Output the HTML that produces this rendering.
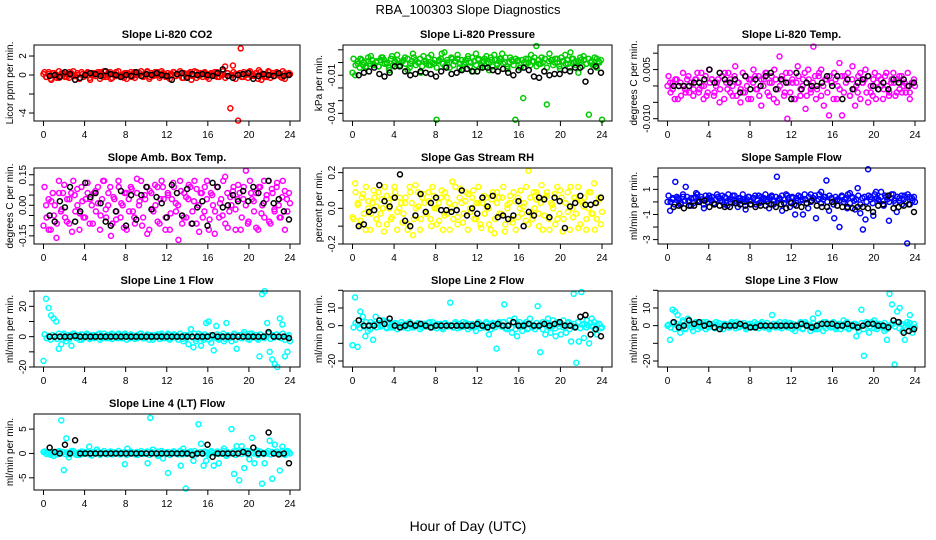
<!DOCTYPE html>
<html><head><meta charset="utf-8"><style>
html,body{margin:0;padding:0;background:#fff;}
svg{display:block;font-family:"Liberation Sans",Arial,sans-serif;}
</style></head><body>
<svg id="chart" width="936" height="540" viewBox="0 0 936 540" xmlns="http://www.w3.org/2000/svg">
<text x="468" y="14" text-anchor="middle" font-size="13">RBA_100303  Slope Diagnostics</text>
<text x="468" y="531" text-anchor="middle" font-size="14">Hour of Day (UTC)</text>
</svg>
<script>
const xTicks=[0,4,8,12,16,20,24];
const xTickLabels=["0","4","8","12","16","20","24"];
const titles=["Slope Li-820 CO2","Slope Li-820 Pressure","Slope Li-820 Temp.","Slope Amb. Box Temp.","Slope Gas Stream RH","Slope Sample Flow","Slope Line 1 Flow","Slope Line 2 Flow","Slope Line 3 Flow","Slope Line 4 (LT) Flow"];
const yLabels=["Licor ppm per min.","kPa per min.","degrees C per min.","degrees C per min.","percent per min.","ml/min per min.","ml/min per min.","ml/min per min.","ml/min per min.","ml/min per min."];
const colors=["#ff0000","#00cd00","#ff00ff","#ff00ff","#ffff00","#0000ff","#00ffff","#00ffff","#00ffff","#00ffff"];
const yLims=[[-4.84,3.16],[-0.046,0.0138],[-0.0107,0.0125],[-0.19,0.183],[-0.2,0.226],[-3.35,2.7],[-20,30.1],[-23.4,19.6],[-23.4,19.6],[-7.5,8.1]];
const yTicks=[[-4,-2,0,2],[-0.04,-0.03,-0.02,-0.01,0,0.01],[-0.01,-0.005,0,0.005,0.01],[-0.15,-0.1,-0.05,0,0.05,0.1,0.15],[-0.2,-0.1,0,0.1,0.2],[-3,-2,-1,0,1,2],[-20,-10,0,10,20,30],[-20,-10,0,10,20],[-20,-10,0,10,20],[-5,0,5]];
const yTickLabels=[["-4","","0","2"],["-0.04","","","-0.01","",""],["-0.010","","","0.005",""],["-0.15","","","0.00","","","0.15"],["-0.2","","0.0","","0.2"],["-3","","-1","","1",""],["-20","","0","","20",""],["-20","","0","10",""],["-20","","0","10",""],["-5","0","5"]];

const co2=[0.1,-0.2,0.3,-0.5,0.2,0,-0.3,0.2,0.1,-0.2,0.3,0,-0.1,0.2,-0.3,0.1,0,0.3,-0.5,0.2,-0.1,0.1,0.3,-0.2,0,0.2,-0.4,0.1,0.3,-0.1,0,-0.3,0.2,0.1,-0.2,0.3,0,0.2,-0.1,0.1,0.4,-0.2,0,0.3,0.1,-0.1,0.2,0,-0.2,0.1,0.3,-0.1,0,0.2,-0.3,0.1,0.2,-0.5,0,0.3,-0.1,0.1,0.2,-0.2,0,0.1,0.3,-0.2,0.1,0,0.9,0.2,-3.5,1.0,0.1,-4.8,2.8,-0.2,0.1,0.3,-0.1,0,0.2,0.5,-0.5,0.1,-0.2,0.3,0,-0.1,0.2,0.1,-0.3,0.2,0,0.1];
const co2Fine=[0.3,-0.2,0.1,-0.4,0.2,0,-0.3,0.4,-0.1,0.2,-0.2,0.1,-0.3,0.2,0.4,-0.1,0,-0.4,0.3,-0.2,0.1,0.2,-0.3,0,0.2,-0.1,0.3,-0.4,0.1,0.4,-0.2,0,0.3,-0.3,0.1,-0.1,0.4,-0.2,0,0.2,-0.4,0.1,0.3,-0.1,-0.3,0.2,0,0.4,-0.2,0.1,0.3,-0.4,0.2,-0.1,0,0.3,-0.3,0.4,0.1,-0.2,0.2,-0.4,0.1,0.3,-0.1,0,0.4,-0.3,0.2,-0.2,0.1,0.3,-0.1,0.4,-0.3,0,0.2,-0.2,0.3,0.1,-0.4,0.2,0,-0.1,0.3,-0.2,0.1,0.4,-0.3,0.2,-0.1,0,0.3,-0.4,0.1,0.2,-0.2,0.3,0,-0.3,0.4,0.1,-0.1,0.2,-0.4,0.3,0,-0.2,0.1,0.4,-0.3,0.2,-0.1,0.3,0,-0.2,0.4,-0.4,0.1,0.2];
const co2Hourly=[-0.1,0,-0.2,0.3,0.1,-0.5,-0.3,0,0.2,0.1,-0.1,0.4,0.1,0,-0.2,0,-0.1,0.3,-0.1,0.1,0,0.2,0,-0.1,-0.5,0.1,0.2,-0.3,0.1,0,0.1,0,-0.1,0.2,0.6,-0.1,-0.3,0,0.1,0.2,-0.4,-0.1,0.1,0,-0.1,0.2,-0.1,0];
const pres=[-0.008,-0.010,-0.001,0.003,-0.002,-0.004,0.001,0.005,-0.001,0.000,-0.003,0.004,0.002,-0.001,-0.006,0.005,0.000,0.006,-0.002,0.001,0.004,-0.006,-0.001,0.007,0.002,0.000,-0.008,0.005,0.001,-0.002,0.006,-0.001,-0.045,0.002,0.007,0.008,0.000,-0.004,0.003,0.001,0.006,-0.001,-0.005,0.002,0.005,0.000,-0.007,0.007,0.003,-0.002,0.001,0.005,-0.006,0.002,0.006,-0.001,0.003,0.007,0.000,-0.005,0.004,0.001,-0.045,0.002,-0.004,-0.028,0.003,0.000,0.006,0.001,0.013,-0.001,0.004,-0.007,-0.033,0.007,0.002,0.000,0.003,-0.005,0.001,0.006,-0.001,0.008,0.003,0.000,-0.008,0.002,0.005,-0.001,-0.041,0.001,-0.002,0.003,0.000,-0.045];
const presFine=[0.003,-0.002,0.001,-0.004,0.002,0,-0.003,0.004,-0.001,0.002,-0.002,0.001,-0.003,0.002,0.004,-0.001,0,-0.004,0.003,-0.002,0.001,0.002,-0.003,0,0.002,-0.001,0.003,-0.004,0.001,0.004,-0.002,0,0.003,-0.003,0.001,-0.001,0.004,-0.002,0,0.002,-0.004,0.001,0.003,-0.001,-0.003,0.002,0,0.004,-0.002,0.001,0.003,-0.004,0.002,-0.001,0,0.003,-0.003,0.004,0.001,-0.002,0.002,-0.004,0.001,0.003,-0.001,0,0.004,-0.003,0.002,-0.002,0.001,0.003,-0.001,0.004,-0.003,0,0.002,-0.002,0.003,0.001,-0.004,0.002,0,-0.001,0.003,-0.002,0.001,0.004,-0.003,0.002,-0.001,0,0.003,-0.004,0.001,0.002,-0.002,0.003,0,-0.003,0.004,0.001,-0.001,0.002,-0.004,0.003,0,-0.002,0.001,0.004,-0.003,0.002,-0.001,0.003,0,-0.002,0.004,-0.004,0.001,0.002];
const presHourly=[-0.010,-0.008,-0.007,-0.004,-0.009,-0.011,-0.008,-0.003,-0.003,-0.007,-0.010,-0.009,-0.007,-0.008,-0.009,-0.011,-0.007,-0.004,-0.009,-0.008,-0.006,-0.005,-0.007,-0.007,-0.004,-0.004,-0.006,-0.007,-0.005,-0.008,-0.010,-0.006,-0.004,-0.006,-0.011,-0.012,-0.007,-0.010,-0.009,-0.009,-0.006,-0.007,-0.004,-0.004,-0.015,-0.007,-0.003,-0.008];
const temp=[0,0.001,-0.001,0.002,-0.004,0.001,0,-0.002,0.003,0.001,-0.001,0.002,-0.002,0.004,0,-0.003,0.005,0.002,-0.002,0.001,-0.005,0.003,0.004,-0.001,0.002,-0.003,0.006,0.001,-0.005,-0.002,0.003,-0.004,0.002,0.005,-0.001,0.003,-0.006,0.002,0.004,-0.003,0.001,0.005,-0.005,0.009,0.002,-0.002,-0.010,0.004,0.001,-0.004,0.006,-0.003,0.002,-0.007,0.005,-0.001,0.012,-0.004,0.003,0.005,-0.006,0.002,-0.009,0.001,0.004,-0.004,0.007,-0.009,0.003,0.002,-0.003,0.006,-0.006,-0.002,0.004,0.001,0.005,-0.005,-0.002,0.002,-0.004,0.003,0,-0.001,0.004,-0.003,0.002,0.001,-0.002,0.003,-0.002,0.001,0,-0.002,0.001,0];
const tempFine=[0.003,-0.002,0.001,-0.004,0.002,0,-0.003,0.004,-0.001,0.002,-0.002,0.001,-0.003,0.002,0.004,-0.001,0,-0.004,0.003,-0.002,0.001,0.002,-0.003,0,0.002,-0.001,0.003,-0.004,0.001,0.004,-0.002,0,0.003,-0.003,0.001,-0.001,0.004,-0.002,0,0.002,-0.004,0.001,0.003,-0.001,-0.003,0.002,0,0.004,-0.002,0.001,0.003,-0.004,0.002,-0.001,0,0.003,-0.003,0.004,0.001,-0.002,0.002,-0.004,0.001,0.003,-0.001,0,0.004,-0.003,0.002,-0.002,0.001,0.003,-0.001,0.004,-0.003,0,0.002,-0.002,0.003,0.001,-0.004,0.002,0,-0.001,0.003,-0.002,0.001,0.004,-0.003,0.002,-0.001,0,0.003,-0.004,0.001,0.002,-0.002,0.003,0,-0.003,0.004,0.001,-0.001,0.002,-0.004,0.003,0,-0.002,0.001,0.004,-0.003,0.002,-0.001,0.003,0,-0.002,0.004,-0.004,0.001,0.002];
const tempHourly=[0,0,0,0,0.001,0.001,0.002,0.005,0.001,0.004,0.002,0.001,0.002,-0.002,0.003,-0.001,0.002,0,0.003,0.004,-0.001,0.002,0.001,-0.004,0.004,-0.001,0.001,0,0,0.001,0.003,0,0.003,-0.004,0.002,-0.001,0.001,0.002,0.003,0,-0.001,0.001,-0.001,0.002,0.001,0.002,0,0.001];
const amb=[-0.10,0,-0.12,0.02,-0.05,-0.16,0.06,-0.02,0.10,-0.08,0.03,-0.13,0.05,0.08,-0.04,0.02,-0.06,0.11,0.03,-0.09,0.07,0.01,-0.05,0.12,-0.02,0.06,-0.15,0.04,-0.07,0.09,0.01,-0.11,0.06,-0.03,0.08,-0.06,0.13,0.02,-0.10,0.05,-0.14,0.07,-0.02,0.10,-0.08,0.03,0.09,-0.12,0.05,-0.04,0.11,0.01,-0.17,0.07,-0.06,0.04,0.10,-0.09,0.02,0.08,-0.13,0.06,-0.03,0.12,-0.07,0.05,-0.14,0.09,0.01,-0.05,0.14,-0.11,0.04,0.07,-0.02,0.10,-0.12,0.03,0.17,-0.08,0.06,0.02,-0.11,0.09,-0.04,0.12,0.05,-0.08,0.08,-0.02,0.11,-0.06,0.04,0.07,-0.03,0.01];
const ambFine=[0.09,-0.06,0.03,-0.12,0.06,0,-0.09,0.12,-0.03,0.06,-0.06,0.03,-0.09,0.06,0.12,-0.03,0,-0.12,0.09,-0.06,0.03,0.06,-0.09,0,0.06,-0.03,0.09,-0.12,0.03,0.12,-0.06,0,0.09,-0.09,0.03,-0.03,0.12,-0.06,0,0.06,-0.12,0.03,0.09,-0.03,-0.09,0.06,0,0.12,-0.06,0.03,0.09,-0.12,0.06,-0.03,0,0.09,-0.09,0.12,0.03,-0.06,0.06,-0.12,0.03,0.09,-0.03,0,0.12,-0.09,0.06,-0.06,0.03,0.09,-0.03,0.12,-0.09,0,0.06,-0.06,0.09,0.03,-0.12,0.06,0,-0.03,0.09,-0.06,0.03,0.12,-0.09,0.06,-0.03,0,0.09,-0.12,0.03,0.06,-0.06,0.09,0,-0.09,0.12,0.03,-0.03,0.06,-0.12,0.09,0,-0.06,0.03,0.12,-0.09,0.06,-0.03,0.09,0,-0.06,0.12,-0.12,0.03,0.06];
const ambHourly=[-0.05,-0.08,0.02,-0.01,0.09,-0.08,-0.03,0.11,0.04,0.06,0.01,-0.08,-0.10,-0.03,0.07,-0.10,0.05,-0.07,0.05,0.09,-0.02,0.04,0.01,-0.06,0.10,0.06,-0.05,0.08,-0.09,-0.01,0.02,-0.10,0.11,0.09,-0.01,0.00,0.05,0.02,0.07,0.02,0.09,0.06,0.01,0.12,0.01,0.03,-0.03,-0.07];
const rh=[-0.05,0.14,0.02,-0.07,0.08,-0.12,0.04,-0.03,0.10,0.01,-0.09,0.05,-0.13,0.07,0,-0.05,0.12,-0.02,0.06,-0.08,0.03,-0.12,0.09,-0.15,0.13,0.01,-0.06,0.08,-0.03,0.04,-0.10,0.07,0.00,-0.07,0.10,-0.04,0.06,-0.12,0.15,0.02,-0.05,0.11,-0.08,0.04,0.08,-0.02,0.10,-0.06,0.03,-0.11,0.07,0.01,-0.09,0.05,-0.14,0.09,-0.03,0.06,-0.13,0.02,0.07,-0.08,0.04,-0.05,0.10,0.01,-0.07,0.21,-0.03,0.09,0.05,-0.10,0.13,-0.04,0.07,-0.12,0.02,0.08,-0.06,0.10,-0.13,0.03,-0.02,0.12,-0.05,0.06,-0.11,0.04,0.01,-0.12,0.09,-0.03,0.14,-0.06,0.05,-0.02];
const rhFine=[-0.06,0.09,0.03,-0.09,0.06,-0.03,0.12,0,-0.12,0.03,0.06,-0.06,0.09,-0.03,0,0.12,-0.09,0.03,-0.06,0.06,0.09,-0.12,0,0.03,-0.03,0.06,-0.09,0.12,0.03,-0.06,0,0.09,-0.12,0.06,0.03,-0.03,0.09,-0.06,0.12,0,-0.09,0.03,0.06,-0.12,0.09,-0.03,0.03,0,-0.06,0.12,-0.09,0.06,0.03,-0.03,0.09,-0.12,0,0.06,-0.06,0.03,0.12,-0.09,0.03,-0.03,0.06,0,-0.12,0.09,-0.06,0.03,0.06,-0.03,0.12,-0.09,0,0.03,-0.06,0.09,-0.12,0.06,0,-0.03,0.03,0.12,-0.09,0.06,-0.06,0,0.09,-0.03,0.03,-0.12,0.06,0.09,-0.06,0.03,0,-0.09,0.12,-0.03,0.06,-0.06,0.03,0.09,-0.12,0,0.06,-0.03,0.12,-0.09,0.03,0.06,-0.06,0,0.09,-0.03,-0.12,0.03,0.06,-0.09];
const rhHourly=[-0.1,-0.09,-0.02,-0.01,0.13,0.04,0.01,0.06,0.19,-0.07,-0.1,-0.04,0.08,-0.02,0.03,0.06,-0.01,-0.01,-0.02,-0.01,0.1,-0.04,0,-0.03,0.06,0.01,0.07,-0.05,-0.04,-0.06,-0.04,0.04,-0.1,-0.02,-0.04,0.06,0.05,-0.05,0.06,0.04,-0.11,0.01,0.03,0.07,0.02,0.02,0.03,0.06];
const samp=[0,-0.7,0.2,1.6,0.3,-0.2,0.4,1.2,0.1,-0.3,0.3,0.7,0,0.4,-0.5,0.2,0.5,0.1,-0.2,0.6,0.3,0,0.4,-0.3,0.2,0.5,0.1,-0.4,0.3,0.2,-0.6,0.4,0.1,0.3,-0.2,0.5,0,0.3,0.2,-0.5,0.4,0.1,2.0,0.3,-0.7,0.2,0.5,-0.4,0.3,-1.0,0.1,0.4,-1.0,0.2,-0.5,0.6,0.3,-1.3,0.2,0.8,0.4,1.7,-0.7,0.3,-1.3,0.1,-2.0,0.4,0.2,-0.5,0.7,0.3,-0.6,1.1,-0.9,-2.2,-1.4,2.6,0.4,-1.1,0.8,0.2,0.8,-0.3,0.4,-1.5,0.6,0.1,-0.8,0.3,-0.2,0.5,-3.3,0.4,0.1,0];
const sampFine=[0.5,0,0.3,-0.2,0.4,0.2,-0.1,0.6,0.1,0.4,0,0.3,-0.1,0.4,0.6,0.1,0.2,-0.2,0.5,0,0.3,0.4,-0.1,0.2,0.4,0.1,0.5,-0.2,0.3,0.6,0,0.2,0.5,-0.1,0.3,0.1,0.6,0,0.2,0.4,-0.2,0.3,0.5,0.1,-0.1,0.4,0.2,0.6,0,0.3,0.5,-0.2,0.4,0.1,0.2,0.5,-0.1,0.6,0.3,0,0.4,-0.2,0.3,0.5,0.1,0.2,0.6,-0.1,0.4,0,0.3,0.5,0.1,0.6,-0.1,0.2,0.4,0,0.5,0.3,-0.2,0.4,0.2,0.1,0.5,0,0.3,0.6,-0.1,0.4,0.1,0.2,0.5,-0.2,0.3,0.4,0,0.5,0.2,-0.1,0.6,0.3,0.1,0.4,-0.2,0.5,0.2,0,0.3,0.6,-0.1,0.4,0.1,0.5,0.2,0,0.6,-0.2,0.3,0.4];
const sampHourly=[-0.4,-0.3,-0.5,-0.3,-0.3,0,0.1,-0.4,-0.2,-0.3,-0.4,-0.4,-0.1,-0.2,-0.3,-0.2,-0.4,-0.3,-0.3,-0.2,-0.4,-0.2,-0.5,-0.1,-0.3,-0.4,-0.1,0.1,-0.3,-0.4,-0.4,0,-0.3,-0.4,-0.4,-0.5,-0.4,-0.4,-0.5,-0.8,-0.3,-0.2,0.5,-0.5,-0.4,-0.3,-0.2,-0.8];
const line1=[-16,25,19,14,12,10,-8,-5,2,-3,1,-6,2,-1,1,-2,0,2,-1,1,-1,0,2,-1,0,1,-1,2,0,-1,1,-1,2,0,-1,1,0,-1,2,0,-1,1,0,-2,1,0,1,-1,0,2,-1,0,1,-2,0,-3,1,-5,5,-7,-3,2,-6,-2,9,10,-4,-9,7,-2,0,-3,9,-1,-3,2,-8,1,-1,3,0,-2,2,0,-1,-13,28,30,9,-10,-15,-18,-20,12,8,-13,-10,-3];
const line1Fine=[1.5,-1,0.5,-2,1,0,-1.5,2,-0.5,1,-1,0.5,-1.5,1,2,-0.5,0,-2,1.5,-1,0.5,1,-1.5,0,1,-0.5,1.5,-2,0.5,2,-1,0,1.5,-1.5,0.5,-0.5,2,-1,0,1,-2,0.5,1.5,-0.5,-1.5,1,0,2,-1,0.5,1.5,-2,1,-0.5,0,1.5,-1.5,2,0.5,-1,1,-2,0.5,1.5,-0.5,0,2,-1.5,1,-1,0.5,1.5,-0.5,2,-1.5,0,1,-1,1.5,0.5,-2,1,0,-0.5,1.5,-1,0.5,2,-1.5,1,-0.5,0,1.5,-2,0.5,1,-1,1.5,0,-1.5,2,0.5,-0.5,1,-2,1.5,0,-1,0.5,2,-1.5,1,-0.5,1.5,0,-1,2,-2,0.5,1];
const line1Hourly=[0,0,0,0,0,0.5,0,0,0,0,0,0,0,0,0,0,0,0,0,0,0,0,0,0,0,0,0,0,0,0,0,0,1,0,0,0,0,0,0,0,0,0,0,3,0,0,0,-1];
const line2=[-11,16,-12,8,5,-6,-3,2,-8,5,1,0,3,-1,2,0,-1,1,0,2,-1,0,1,-1,0,1,0,-1,1,0,2,-1,0,1,0,-1,1,0,13,-1,1,0,-1,2,0,1,-1,0,-3,1,0,-1,2,-5,1,0,-13,2,0,12,-2,3,-4,4,-6,2,-3,1,-2,4,0,-2,11,-15,2,-5,4,-4,3,-6,1,-5,3,-4,2,-9,18,-21,-9,19,-7,3,-10,4,2,-5,1,-1];
const line2Fine=[-1,1.5,0.5,-1.5,1,-0.5,2,0,-2,0.5,1,-1,1.5,-0.5,0,2,-1.5,0.5,-1,1,1.5,-2,0,0.5,-0.5,1,-1.5,2,0.5,-1,0,1.5,-2,1,0.5,-0.5,1.5,-1,2,0,-1.5,0.5,1,-2,1.5,-0.5,0.5,0,-1,2,-1.5,1,0.5,-0.5,1.5,-2,0,1,-1,0.5,2,-1.5,0.5,-0.5,1,0,-2,1.5,-1,0.5,1,-0.5,2,-1.5,0,0.5,-1,1.5,-2,1,0,-0.5,0.5,2,-1.5,1,-1,0,1.5,-0.5,0.5,-2,1,1.5,-1,0.5,0,-1.5,2,-0.5,1,-1,0.5,1.5,-2,0,1,-0.5,2,-1.5,0.5,1,-1,0,1.5,-0.5,-2,0.5,1,-1.5];
const line2Hourly=[3,0,0,0,3,1,4,0,-1,0,1,0,1,0,-1,0,0,0,0,0,0,0,0,1,0,-1,0,1,0,0,2,0,0,1,0,0,1,0,1,2,0,0,-1,5,6,-5,-2,-6];
const line3=[0,-8,9,8,6,-4,3,-2,4,1,-3,2,0,-1,2,-2,1,0,-1,2,0,-1,1,0,-1,1,0,2,-1,1,0,-1,1,0,-1,1,0,2,-1,0,-1,6,0,1,-1,0,2,-1,0,1,-3,0,1,-2,2,0,-3,4,-2,7,1,-3,2,0,-1,2,-2,1,0,3,-1,-2,0,1,-6,-3,9,-17,2,-4,1,3,-2,1,0,-3,-8,18,12,-22,8,10,-3,-8,2,6,-4,-1];
const line3Fine=[0.5,-1,1.5,-2,1,0,-0.5,2,-1.5,1,0.5,-1,0,1.5,-2,1,-0.5,0.5,2,-1,0,1,-1.5,0.5,1.5,-0.5,-2,1,0,-1,2,0.5,-1.5,1,-0.5,0,1.5,-2,0.5,1,-1,2,0,-1.5,1,0.5,-0.5,1.5,-2,0,1,-1,0.5,2,-1.5,0,1,-0.5,1.5,-2,0.5,0,-1,2,-1.5,1,0.5,-0.5,0,1.5,-1,-2,1,0.5,2,-1.5,0,1,-0.5,1.5,-1,0.5,-2,0,1,2,-1.5,0.5,-0.5,1,0,-1,1.5,-2,0.5,1,-0.5,2,-1.5,0,1,0.5,-1,1.5,-2,0,0.5,1,-0.5,2,-1.5,1,0,-1,0.5,1.5,-2,1];
const line3Hourly=[2,-1,0,3,1,2,0,1,-1,-2,0,0,0,1,0,-1,-1,0,0,0,0,0,0,0,0,1,0,-1,0,1,1,1,0,0,1,0,-1,0,1,1,0,0,-1,3,2,-4,-3,-2];
const line4=[0.3,0,0.2,0,-0.5,0,0.3,6.8,-3.4,3.1,-0.8,0.5,0,-0.3,0.2,0,0.3,0,1.4,-0.4,0,0.8,0,0.2,0,-0.2,0,0.3,0,0.1,-0.2,0,-2.2,1,0,0.2,0,-0.3,0,0,0.2,-2,7.3,0.8,0,-0.5,0,-1,0,-4,0,0.4,0,-0.2,-2.5,1,-7.2,0,0.4,-1.5,0,6,2,-2.5,-1.5,0,0.5,-2.5,0,-2,0,1,-0.5,0,5,-4.2,1.5,-5.5,1.5,-3,0.5,-1.2,3.2,-2,0.6,0,-6.2,-2,0,2.6,-5.2,1.8,0,-3.5,1.4,0,0.5,0];
const line4Fine=[0.4,-0.1,0.2,-0.3,0.3,0.1,-0.2,0.5,0,0.3,-0.1,0.2,-0.2,0.3,0.5,0,0.1,-0.3,0.4,-0.1,0.2,0.3,-0.2,0.1,0.3,0,0.4,-0.3,0.2,0.5,-0.1,0.1,0.4,-0.2,0.2,0,0.5,-0.1,0.1,0.3,-0.3,0.2,0.4,0,-0.2,0.3,0.1,0.5,-0.1,0.2,0.4,-0.3,0.3,0,0.1,0.4,-0.2,0.5,0.2,-0.1,0.3,-0.3,0.2,0.4,0,0.1,0.5,-0.2,0.3,-0.1,0.2,0.4,0,0.5,-0.2,0.1,0.3,-0.1,0.4,0.2,-0.3,0.3,0.1,0,0.4,-0.1,0.2,0.5,-0.2,0.3,0,0.1,0.4,-0.3,0.2,0.3,-0.1,0.4,0.1,-0.2,0.5,0.2,0,0.3,-0.3,0.4,0.1,-0.1,0.2,0.5,-0.2,0.3,0,0.4,0.1,-0.1,0.5,-0.3,0.2,0.3];
const line4Hourly=[1.2,0.3,0,1.8,0,2.7,0,0,0,0,0,0,0,0,0,0,0,0,0,0,0,0,0,0,0,0,0,0,-0.3,0,0,1.8,-0.7,0,0,0,0,0,0.3,0,1.2,0,0,4.3,0,-0.2,0,-2];

const series=[co2,pres,temp,amb,rh,samp,line1,line2,line3,line4];
const seriesFine=[co2Fine,presFine,tempFine,ambFine,rhFine,sampFine,line1Fine,line2Fine,line3Fine,line4Fine];
const seriesHourly=[co2Hourly,presHourly,tempHourly,ambHourly,rhHourly,sampHourly,line1Hourly,line2Hourly,line3Hourly,line4Hourly];

const NS="http://www.w3.org/2000/svg";
const svg=document.getElementById('chart');
const cols=[[34,300],[343,612],[658,925]];
const rows=[[45,121],[168,244],[291,367],[414,490]];
function mk(tag,attrs,parent){const e=document.createElementNS(NS,tag);for(const k in attrs)e.setAttribute(k,attrs[k]);(parent||svg).appendChild(e);return e;}

for(let p=0;p<10;p++){
  const c=cols[p%3], r=rows[Math.floor(p/3)];
  const L=c[0],R=c[1],T=r[0],B=r[1];
  const g=mk('g',{});
  
  
  const xs=h=>L+9.5+(h/24)*(R-L-19.5);
  const ys=v=>B-(v-yLims[p][0])/(yLims[p][1]-yLims[p][0])*(B-T);
  const t=mk('text',{x:(L+R)/2,y:T-7,'text-anchor':'middle','font-size':11,'font-weight':'bold'},g);
  
  
  t.textContent=titles[p];
  const yl=mk('text',{x:0,y:0,'text-anchor':'middle','font-size':10,transform:`translate(${L-21},${(T+B)/2}) rotate(-90)`},g);
  
  
  yl.textContent=yLabels[p];
  const fine=seriesFine[p], nf=fine.length;
  fine.forEach((v,i)=>{
    const cc=mk('circle',{cx:xs(0.1+i*23.8/(nf-1)),cy:ys(v),r:2.5,fill:'none',stroke:colors[p],'stroke-width':1.5},g);
    
    
  });
  const pts=series[p], n=pts.length;
  pts.forEach((v,i)=>{
    const cc=mk('circle',{cx:xs(i*24/(n-1)),cy:ys(v),r:2.5,fill:'none',stroke:colors[p],'stroke-width':1.5},g);
    
    
  });
  const hp=seriesHourly[p], m=hp.length;
  hp.forEach((v,i)=>{
    const cc=mk('circle',{cx:xs(0.6+i*23.3/(m-1)),cy:ys(v),r:2.5,fill:'none',stroke:'#000','stroke-width':1.5},g);
    
    
  });
  const box=mk('rect',{x:L,y:T,width:R-L,height:B-T,fill:'none',stroke:'#000','stroke-width':1},g);
  
  
  xTicks.forEach((h,i)=>{
    const X=xs(h);
    mk('line',{x1:X,x2:X,y1:B,y2:B+5,stroke:'#000'},g);
    const tl=mk('text',{x:X,y:B+17,'text-anchor':'middle','font-size':10},g);
    
    
    tl.textContent=xTickLabels[i];
  });
  yTicks[p].forEach((v,i)=>{
    const Y=ys(v);
    mk('line',{x1:L-5,x2:L,y1:Y,y2:Y,stroke:'#000'},g);
    if(yTickLabels[p][i]){
      const tl=mk('text',{x:0,y:0,'text-anchor':'middle','font-size':10,transform:`translate(${L-8},${Y}) rotate(-90)`},g);
      
      
      tl.textContent=yTickLabels[p][i];
    }
  });
}
</script>
</body></html>
